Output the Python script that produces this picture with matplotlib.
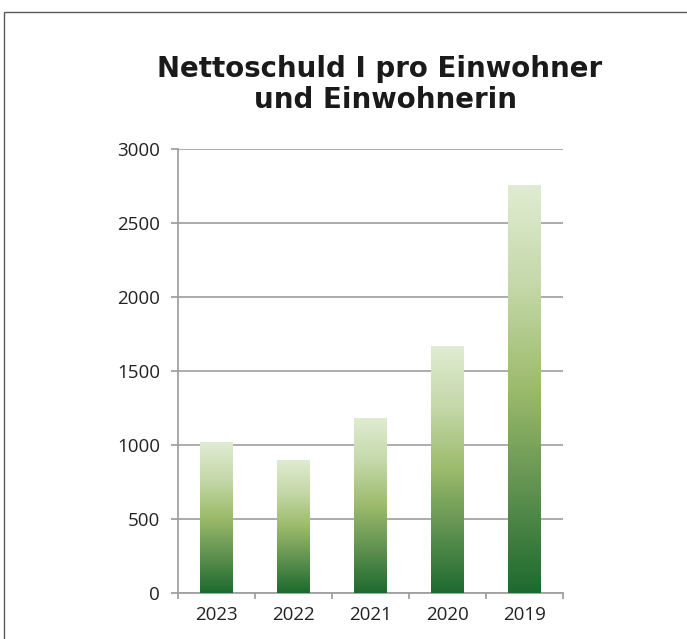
import numpy as np
import matplotlib
matplotlib.use('Agg')
import matplotlib.pyplot as plt
from matplotlib.colors import LinearSegmentedColormap
from matplotlib.patches import Rectangle

#####
# Data
#####

years = ['2023', '2022', '2021', '2020', '2019']
debt_per_capita = [1020, 900, 1182, 1669, 2757]
y_ticks = [0, 500, 1000, 1500, 2000, 2500, 3000]
title_lines = ['Nettoschuld I pro Einwohner', 'und Einwohnerin']

#####
# Figure
#####

W, H = 687, 639
fig = plt.figure(figsize=(W / 100, H / 100), dpi=100)
ax = fig.add_axes([178 / W, 46 / H, 385 / W, 444 / H])

# outer frame of the chart
fig.patches.append(Rectangle((4 / W, -0.01), 1.0, (H - 12) / H + 0.01,
                             transform=fig.transFigure, fill=False,
                             edgecolor='#5a5a5a', linewidth=1.0))

green = LinearSegmentedColormap.from_list(
    'bar_green', ['#1d6a2e', '#5f9150', '#9cbb6b', '#c4d8a8', '#e0ecd2'])

x = np.arange(len(years))
bars = ax.bar(x, debt_per_capita, width=0.42, color='none', zorder=3)

gradient = np.linspace(0, 1, 256).reshape(-1, 1)
for bar in bars:
    x0 = bar.get_x()
    im = ax.imshow(gradient, cmap=green, origin='lower', aspect='auto',
                   extent=[x0, x0 + bar.get_width(), 0, bar.get_height()],
                   zorder=3)
    im.set_clip_path(bar)

ax.set_xlim(-0.5, len(years) - 0.5)
ax.set_ylim(0, 3000)
ax.set_yticks(y_ticks)
ax.set_xticks(x)
ax.set_xticklabels(years)
ax.set_xticks(np.arange(len(years) + 1) - 0.5, minor=True)

for label in ax.get_xticklabels() + ax.get_yticklabels():
    label.set_fontfamily('Open Sans')
    label.set_fontsize(13.5)
    label.set_color('#222222')

ax.tick_params(axis='x', which='major', length=0, pad=9)
ax.tick_params(axis='x', which='minor', length=4, width=1.3, color='#a0a0a0')
ax.tick_params(axis='y', length=5, width=1.3, color='#a0a0a0', pad=8)

ax.yaxis.grid(True, color='#a6a6a6', linewidth=1.3, zorder=0)
ax.set_axisbelow(True)
for side in ['top', 'right']:
    ax.spines[side].set_visible(False)
for side in ['left', 'bottom']:
    ax.spines[side].set_color('#a0a0a0')
    ax.spines[side].set_linewidth(1.3)

# title, two centred lines (baselines)
fig.text(380 / W, 1 - 77 / H, title_lines[0], ha='center', va='baseline',
         fontsize=19.9, fontweight='bold', color='#1a1a1a', family='DejaVu Sans')
fig.text(385 / W, 1 - 108 / H, title_lines[1], ha='center', va='baseline',
         fontsize=19.9, fontweight='bold', color='#1a1a1a', family='DejaVu Sans')

plt.savefig('out.png', dpi=100)
